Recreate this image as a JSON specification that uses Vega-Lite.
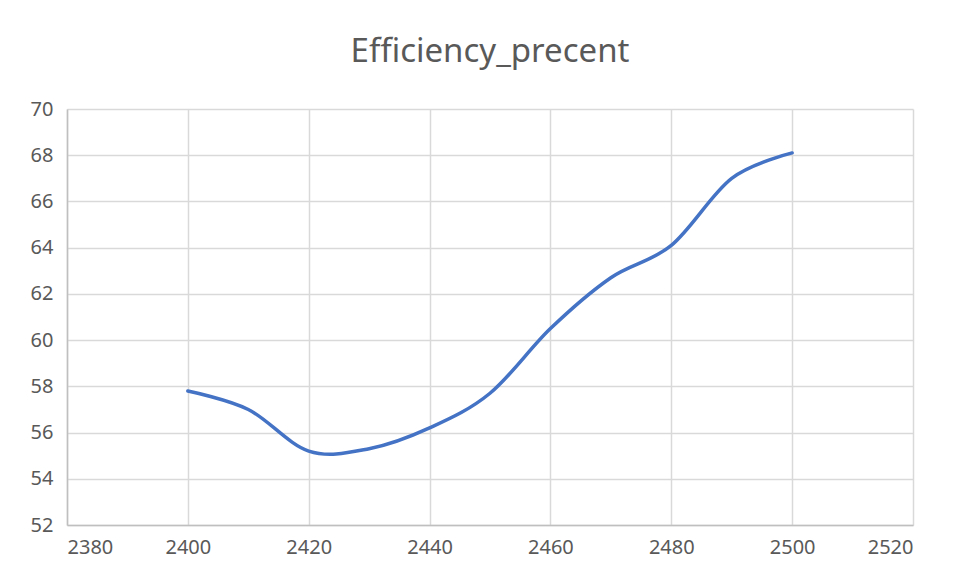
{
  "$schema": "https://vega.github.io/schema/vega-lite/v6.json",
  "autosize": "none",
  "width": 846,
  "height": 416,
  "padding": {"left": 67, "top": 109, "right": 45, "bottom": 56},
  "background": "white",
  "title": {
    "text": "Efficiency_precent",
    "fontSize": 33,
    "font": "Noto Sans",
    "fontWeight": "normal",
    "color": "#595959",
    "anchor": "middle",
    "offset": 30
  },
  "config": {
    "view": {"stroke": null},
    "font": "Noto Sans"
  },
  "data": {
    "values": [
      {"x": 2400, "y": 57.8},
      {"x": 2410, "y": 57.0},
      {"x": 2420, "y": 55.2},
      {"x": 2430, "y": 55.3},
      {"x": 2440, "y": 56.2},
      {"x": 2450, "y": 57.7},
      {"x": 2460, "y": 60.5},
      {"x": 2470, "y": 62.7},
      {"x": 2480, "y": 64.1},
      {"x": 2490, "y": 67.0},
      {"x": 2500, "y": 68.1}
    ]
  },
  "mark": {"type": "line", "interpolate": "cardinal", "color": "#4472C4", "strokeWidth": 3.5, "strokeCap": "round"},
  "encoding": {
    "x": {
      "field": "x", "type": "quantitative",
      "scale": {"domain": [2380, 2520], "nice": false, "zero": false},
      "axis": {
        "title": null, "values": [2380, 2400, 2420, 2440, 2460, 2480, 2500, 2520],
        "format": "d", "ticks": false, "labelFontSize": 20, "labelColor": "#595959",
        "labelPadding": 12, "gridColor": "#d9d9d9", "gridWidth": 1.5,
        "domainColor": "#bfbfbf", "domainWidth": 1.5, "labelFont": "Noto Sans"
      }
    },
    "y": {
      "field": "y", "type": "quantitative",
      "scale": {"domain": [52, 70], "nice": false, "zero": false},
      "axis": {
        "title": null, "values": [52, 54, 56, 58, 60, 62, 64, 66, 68, 70],
        "ticks": false, "labelFontSize": 20, "labelColor": "#595959",
        "labelPadding": 14, "gridColor": "#d9d9d9", "gridWidth": 1.5,
        "domainColor": "#bfbfbf", "domainWidth": 1.5, "labelFont": "Noto Sans"
      }
    }
  }
}
